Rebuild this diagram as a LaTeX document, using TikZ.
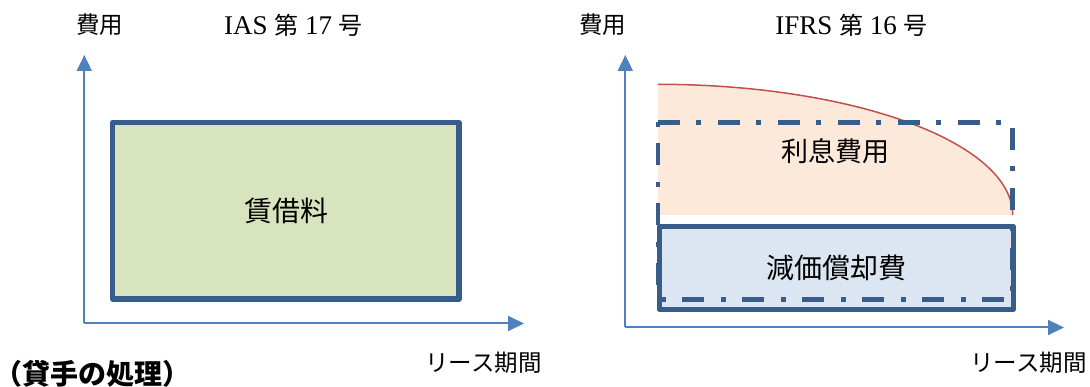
\documentclass[tikz,border=0pt]{standalone}
\usepackage{fontspec}
\setmainfont{Liberation Serif}
\newfontfamily\jp{Noto Sans CJK JP}
\usetikzlibrary{arrows.meta}
\definecolor{axisblue}{HTML}{4F81BD}
\definecolor{boxborder}{HTML}{385D8A}
\definecolor{greenfill}{HTML}{D7E4BD}
\definecolor{peachfill}{HTML}{FDE9D9}
\definecolor{curvered}{HTML}{C0504D}
\definecolor{bluefill}{HTML}{DCE6F2}
\newcommand{\cjkat}[1]{{\jp\fontsize{24pt}{28pt}\selectfont #1}}
\tikzset{
  axis/.style={draw=axisblue, line width=2pt, -{Triangle[length=16pt,width=15pt]}},
  label/.style={inner sep=0pt, font=\jp\fontsize{23.5pt}{26pt}\selectfont},
  titletext/.style={inner sep=0pt, font=\fontsize{27pt}{30pt}\selectfont},
  boxtext/.style={inner sep=0pt, font=\jp\fontsize{28pt}{32pt}\selectfont},
  solidbox/.style={draw=boxborder, line width=5.2pt, line join=round, inner sep=0pt},
  dashbox/.style={draw=boxborder, line width=4.8pt, dash pattern=on 22pt off 16pt on 5pt off 17pt},
}
\begin{document}
\begin{tikzpicture}[x=1pt,y=-1pt]
\useasboundingbox (0,0) rectangle (1090,387);
% ---------- left panel ----------
\node[label] (lcost) at (99.5,25) {費用};
\node[titletext] (ltitle) at (293.5,25) {IAS \cjkat{第} 17 \cjkat{号}};
\node[solidbox, fill=greenfill, minimum width=346.5pt, minimum height=176.5pt] (rent) at (285.75,210.75) {};
\node[boxtext] (renttxt) at (286.6,211) {賃借料};
\coordinate (lo) at (84.3,323.5);
\coordinate (ly) at (84.3,55);
\coordinate (lx) at (524,323.5);
\draw[axis] (lo) -- (ly);
\draw[axis] (lo) -- (lx);
\node[label] (lperiod) at (483.5,363) {リース期間};
\node[inner sep=0pt, anchor=west, font=\jp\bfseries\fontsize{28pt}{30pt}\selectfont] (lessor) at (-5.3,374.3) {（貸手の処理）};
% ---------- right panel ----------
\node[label] (rcost) at (602.6,25) {費用};
\node[titletext] (rtitle) at (851.5,25) {IFRS \cjkat{第} 16 \cjkat{号}};
\fill[peachfill] (658,215) -- (658,84.3)
  -- plot[domain=90:0, samples=60, smooth] ({658+354.7*cos(\x)}, {215-130.7*sin(\x)}) -- cycle;
\draw[curvered, line width=1.5pt] plot[domain=90:0, samples=60, smooth] ({658+354.7*cos(\x)}, {215-130.7*sin(\x)});
\node[solidbox, fill=bluefill, minimum width=354pt, minimum height=82.5pt] (dep) at (836.3,268) {};
\node[boxtext] (deptxt) at (836.4,268) {減価償却費};
\draw[dashbox] (658,122.5) -- (1012.7,122.5) -- (1012.7,299.3) -- (658,299.3) -- cycle;
\node[boxtext, font=\jp\fontsize{27pt}{30pt}\selectfont] (inttxt) at (835.6,151) {利息費用};
\coordinate (ro) at (625.3,327.5);
\coordinate (ry) at (625.3,55);
\coordinate (rx) at (1064,327.5);
\draw[axis] (ro) -- (ry);
\draw[axis] (ro) -- (rx);
\node[label] (rperiod) at (1028.5,363) {リース期間};
\end{tikzpicture}
\end{document}
